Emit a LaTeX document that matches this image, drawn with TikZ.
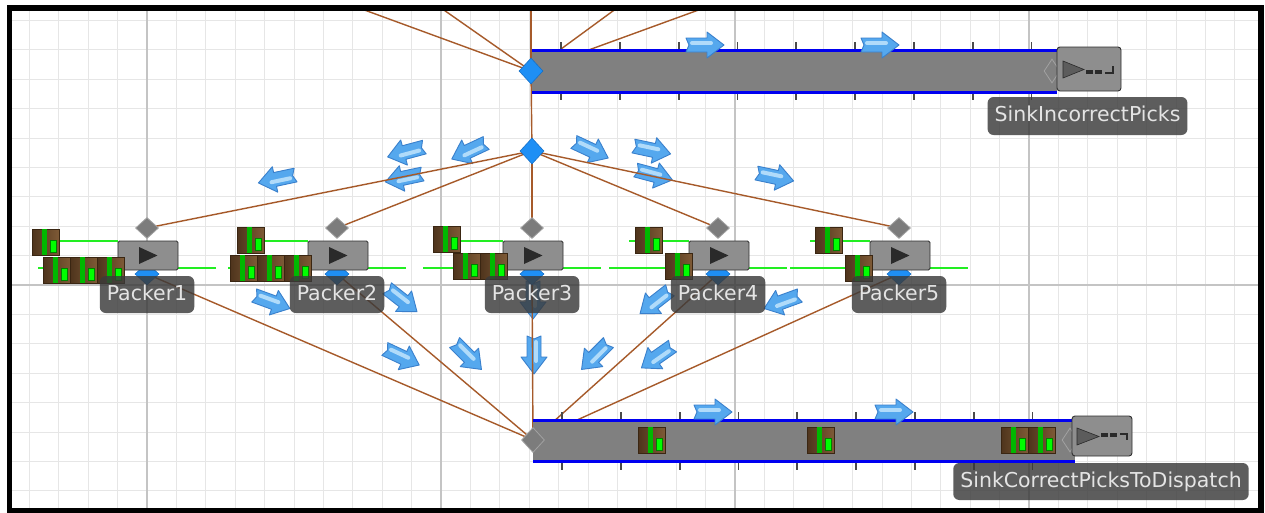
\documentclass[tikz,border=0pt]{standalone}
\usepackage{fontspec}
\newfontfamily\lblfont{DejaVu Sans}
\usetikzlibrary{shapes.geometric}
\definecolor{gridminor}{HTML}{E6E6E6}
\definecolor{gridmajor}{HTML}{C4C4C4}
\definecolor{connbrown}{HTML}{A65A2A}
\definecolor{portblue}{HTML}{1E8FF5}
\definecolor{portblueedge}{HTML}{1670C8}
\definecolor{portgray}{HTML}{7C7C7C}
\definecolor{portgrayedge}{HTML}{A2A2A2}
\definecolor{beltgray}{HTML}{808080}
\definecolor{beltblue}{HTML}{0000F0}
\definecolor{tickgray}{HTML}{4A4A4A}
\definecolor{boxgray}{HTML}{8E8E8E}
\definecolor{boxedge}{HTML}{303030}
\definecolor{playdark}{HTML}{2A2A2A}
\definecolor{icongray}{HTML}{5C5C5C}
\definecolor{labelfill}{HTML}{3A3A3A}
\definecolor{labeltext}{HTML}{E4E4E4}
\definecolor{flowgreen}{HTML}{22EE22}
\definecolor{totedark}{HTML}{4E341C}
\definecolor{totelight}{HTML}{7E5A36}
\definecolor{toteedge}{HTML}{3A2612}
\definecolor{stripegreen}{HTML}{00B800}
\definecolor{brightgreen}{HTML}{00FF00}
\definecolor{arrowblue}{HTML}{55A8EE}
\definecolor{arrowedge}{HTML}{3A80CC}
\definecolor{arrowhi}{HTML}{B0DBFA}
\pgfdeclarelayer{bg}
\pgfdeclarelayer{flowlayer}
\pgfdeclarelayer{linklayer}
\pgfsetlayers{bg,flowlayer,linklayer,main}
\tikzset{
  minorgrid/.style={draw=gridminor, line width=1pt},
  majorgrid/.style={draw=gridmajor, line width=1.3pt},
  conn/.style={draw=connbrown, line width=1.4pt},
  bluedia/.style={diamond, fill=portblue, draw=portblueedge, line width=0.6pt, inner sep=0pt, minimum width=24pt, minimum height=26pt},
  graydia/.style={diamond, fill=portgray, draw=portgrayedge, line width=0.8pt, inner sep=0pt, minimum width=23pt, minimum height=21pt},
  enddia/.style={diamond, fill=beltgray, draw=portgrayedge, line width=0.8pt, inner sep=0pt, minimum width=16pt, minimum height=24pt},
  packerbox/.style={rectangle, fill=boxgray, draw=boxedge, line width=0.8pt, minimum width=60pt, minimum height=29pt, inner sep=0pt, rounded corners=1.5pt},
  sinkbox/.style={rectangle, fill=boxgray, draw=boxedge, line width=0.9pt, inner sep=0pt, rounded corners=3pt},
  namelabel/.style={rectangle, rounded corners=6pt, fill=labelfill, fill opacity=0.82, text opacity=1, text=labeltext, font=\lblfont\fontsize{20.5pt}{24pt}\selectfont, minimum height=37pt, inner xsep=7pt, inner ysep=0pt, text height=15pt, text depth=4pt},
  greenline/.style={draw=flowgreen, line width=1.4pt},
  convtick/.style={draw=tickgray, line width=1.8pt},
  beltedge/.style={draw=beltblue, line width=3pt},
  flowarrow/.pic={
    \fill[arrowblue, draw=arrowedge, line width=0.9pt, line join=round] (-19,-7) -- (2,-7) -- (2,-13) -- (19,0) -- (2,13) -- (2,7) -- (-19,7) -- (-16,0) -- cycle;
    \draw[arrowhi, line width=4pt, line cap=round] (-13,-2) -- (6,-2);
  },
  tote/.pic={
    \shade[left color=totedark, right color=totelight] (0,0) rectangle (27,26);
    \draw[toteedge, line width=0.8pt] (0,0) rectangle (27,26);
    \fill[stripegreen] (10,0.4) rectangle (15,25.6);
    \fill[brightgreen, draw=green!50!black, line width=0.5pt] (18.5,11) rectangle (24,23);
  },
  playicon/.pic={
    \fill[playdark] (-9,-8.5) -- (-9,8.5) -- (9.5,0) -- cycle;
  },
  sinkicontop/.pic={
    \fill[icongray, draw=playdark, line width=0.6pt] (-26,-8) -- (-26,9) -- (-5,0.5) -- cycle;
    \fill[playdark] (-3,1) rectangle (4,5);
    \fill[playdark] (6,1) rectangle (13,5);
    \draw[playdark, line width=1.6pt] (16,4) -- (24,4) -- (24,-3);
  },
  sinkiconbot/.pic={
    \fill[icongray, draw=playdark, line width=0.6pt] (-25,-8) -- (-25,9) -- (-3,0.5) -- cycle;
    \fill[playdark] (-1,-3) rectangle (6,1);
    \fill[playdark] (8,-3) rectangle (15,1);
    \draw[playdark, line width=1.6pt] (18,-2) -- (25,-2) -- (25,4);
  }
}
\begin{document}
\begin{tikzpicture}[x=1pt,y=-1pt]
\useasboundingbox (0,0) rectangle (1265,512);
\begin{pgfonlayer}{bg}
  \fill[white] (0,0) rectangle (1265,512);
  \foreach \k in {-4,...,37} {
    \pgfmathsetmacro\gx{147+29.4*\k}
    \draw[minorgrid] (\gx,10) -- (\gx,508);
  }
  \foreach \k in {-9,...,7} {
    \pgfmathsetmacro\gy{285+29.4*\k}
    \draw[minorgrid] (10,\gy) -- (1258,\gy);
  }
  \foreach \gx in {147,441,735,1029} \draw[majorgrid] (\gx,10) -- (\gx,508);
  \draw[majorgrid] (10,285) -- (1258,285);
\end{pgfonlayer}

% conveyors
\foreach \k in {0,...,8} {
  \pgfmathsetmacro\tx{561+58.8*\k}
  \draw[convtick] (\tx,42) -- (\tx,49);
  \draw[convtick] (\tx,93) -- (\tx,100);
  \pgfmathsetmacro\bx{562+58.8*\k}
  \draw[convtick] (\bx,412) -- (\bx,419);
  \draw[convtick] (\bx,462) -- (\bx,470);
}
\fill[beltgray] (532,51) rectangle (1057,91);
\draw[beltedge] (532,50) -- (1057,50);
\draw[beltedge] (532,92) -- (1057,92);
\fill[beltgray] (533,421) rectangle (1075,460);
\draw[beltedge] (533,420) -- (1075,420);
\draw[beltedge] (533,461) -- (1075,461);

\node[enddia] (endA) at (1052,71) {};
\node[enddia] (endB) at (1070,440) {};
\node[sinkbox, minimum width=64pt, minimum height=44pt] (sinkA) at (1089,69) {};
\node[sinkbox, minimum width=60pt, minimum height=40pt] (sinkB) at (1102,436) {};
\pic at (sinkA.center) {sinkicontop};
\pic at (sinkB.center) {sinkiconbot};

\foreach \ax/\ay in {705/45, 880/45, 713/412, 894/412} \pic at (\ax,\ay) {flowarrow};

% top and middle routing points
\node[bluedia] (T) at (531,71) {};
\node[bluedia] (M) at (532,151) {};
\node[graydia, minimum width=23pt, minimum height=25pt] (B) at (533,440) {};

% packers
\foreach \i/\cx in {1/148,2/338,3/533,4/719,5/900} {
  \draw[greenline] ({\cx-110},268) -- ({\cx+68},268);
  \draw[greenline] ({\cx-90},241) -- ({\cx-30},241);
  \node[bluedia, minimum width=24pt, minimum height=22pt] (out\i) at ({\cx-1},274) {};
  \node[packerbox] (pk\i) at (\cx,255.5) {};
  \pic at (pk\i.center) {playicon};
  \node[graydia] (in\i) at ({\cx-1},228) {};
}

% totes
\foreach \tx/\ty in {32/229, 43/257, 70/257, 97/257, 237/227, 230/255, 257/255, 284/255, 433/226, 453/253, 480/253, 635/227, 665/253, 815/227, 845/255, 638/427, 807/427, 1001/427, 1028/427}
  \pic at (\tx,\ty) {tote};

% labels
\foreach \i/\cx in {1/148,2/338,3/533,4/719,5/900}
  \node[namelabel, minimum width=94pt] (lb\i) at ({\cx-1},294.5) {Packer\i};
\node[namelabel, minimum height=38pt] (lbA) at (1087.5,116) {SinkIncorrectPicks};
\node[namelabel] (lbB) at (1101,481.5) {SinkCorrectPicksToDispatch};

% connectors
\coordinate (u1) at (359,8);
\coordinate (u2) at (441,8);
\coordinate (u3) at (531,8);
\coordinate (u4) at (617,8);
\coordinate (u5) at (704,8);
\begin{pgfonlayer}{linklayer}
  \foreach \u in {u1,u2,u3,u4,u5} \draw[conn] (T.center) -- (\u);
  \draw[conn] (T.center) -- (M.center);
  \foreach \i in {1,...,5} \draw[conn] (M.center) -- (in\i.center);
  \foreach \i in {1,...,5} \draw[conn] (out\i.center) -- (B.center);
\end{pgfonlayer}

% flow direction arrows
\begin{pgfonlayer}{flowlayer}
  \foreach \ax/\ay/\ang in {277/179/192, 406/152/195, 404/178/192, 469/151/205, 591/150/-25, 652/150/-12, 654/175/-15, 775/177/-12, 272/302/-20, 402/300/-38, 533/300/-90, 655/302/218, 782/302/200, 402/357/-25, 468/356/-45, 534/355/-90, 595/356/225, 657/357/215}
    \pic[rotate=\ang] at (\ax,\ay) {flowarrow};
\end{pgfonlayer}

% frame
\draw[line width=5.5pt] (9.5,8) rectangle (1261,511);
\end{tikzpicture}
\end{document}
